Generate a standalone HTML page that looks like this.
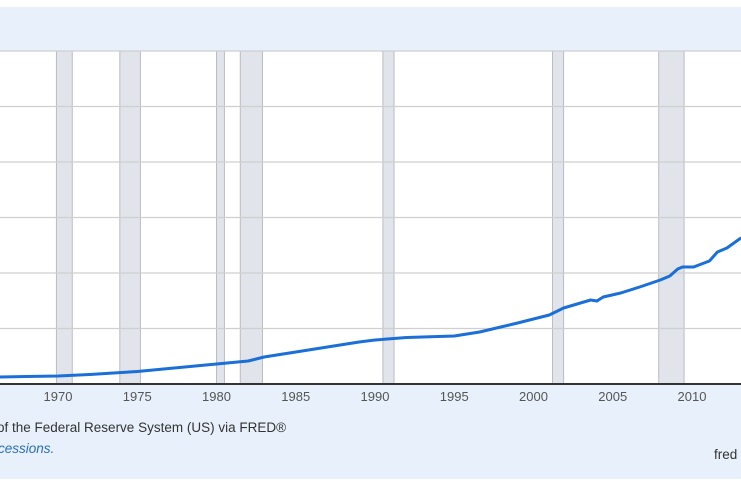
<!DOCTYPE html>
<html><head><meta charset="utf-8"><style>
html,body{margin:0;padding:0;background:#fff;}
body{width:741px;height:486px;overflow:hidden;position:relative;font-family:"Liberation Sans",sans-serif;}
#bg{position:absolute;left:0;top:7px;width:741px;height:472px;background:#e8f1fb;}
svg{position:absolute;left:0;top:0;}
.t{position:absolute;white-space:nowrap;font-size:13.5px;color:#333;}
</style></head><body>
<div id="bg"></div>
<svg id="chart" width="741" height="486"></svg>
<div class="t" style="left:-3px;top:420px;">of the Federal Reserve System (US) via FRED®</div>
<div class="t" style="left:-2px;top:441px;color:#2a6ebb;font-style:italic;">cessions.</div>
<div class="t" style="left:714px;top:447px;">fred</div>
<script>
const years=[1966.3,1968,1970,1972,1974,1975,1977,1980,1982,1983,1985,1987,1989,1990,1992,1994,1995,1996.6,1999,2001,2001.9,2003.6,2004,2004.4,2005.5,2006.7,2008,2008.6,2009.1,2009.4,2010.1,2011.1,2011.6,2012.2,2013,2013.3];
const values=[126,135,144,171,207,225,279,360,414,486,577,667,757,793,838,856,865,937,1099,1243,1369,1514,1495,1568,1640,1748,1874,1946,2072,2108,2108,2216,2378,2450,2613,2660];
const recStart=[1969.9,1973.9,1980.0,1981.5,1990.5,2001.2,2007.9];
const recEnd=[1970.9,1975.2,1980.5,1982.9,1991.2,2001.9,2009.5];
const xTicks=[1970,1975,1980,1985,1990,1995,2000,2005,2010];
const yTicks=[0,1000,2000,3000,4000,5000,6000];
const X=y=>58+(y-1970)*15.85;
const Y=v=>384-v/1000*55.5;
const NS='http://www.w3.org/2000/svg';
const svg=document.getElementById('chart');
function mk(t,a){const e=document.createElementNS(NS,t);for(const k in a)e.setAttribute(k,a[k]);svg.appendChild(e);return e;}
const plot=mk('rect',{x:0,y:51,width:741,height:333,fill:'#fff'});


recStart.forEach((s,i)=>{
  const r=mk('rect',{x:X(s),y:51,width:X(recEnd[i])-X(s),height:333,fill:'#e1e4ea',stroke:'#b9bcc2','stroke-width':1});
  
  
});
yTicks.forEach(v=>{
  const l=mk('line',{x1:0,x2:741,y1:Y(v),y2:Y(v),stroke:'#cfcfcf','stroke-width':1.3});
  
  
});
const ax=mk('line',{x1:0,x2:741,y1:384,y2:384,stroke:'#333','stroke-width':2});


xTicks.forEach(y=>{
  const t=mk('text',{x:X(y),y:401,'text-anchor':'middle','font-size':13,fill:'#555','font-family':'Liberation Sans, sans-serif'});
  t.textContent=y;
  
  
});
const d=years.map((y,i)=>(i?'L':'M')+X(y).toFixed(1)+','+Y(values[i]).toFixed(1)).join(' ');
const p=mk('path',{d:d,fill:'none',stroke:'#1a6fd8','stroke-width':3,'stroke-linejoin':'round','stroke-linecap':'round'});


</script>
</body></html>
